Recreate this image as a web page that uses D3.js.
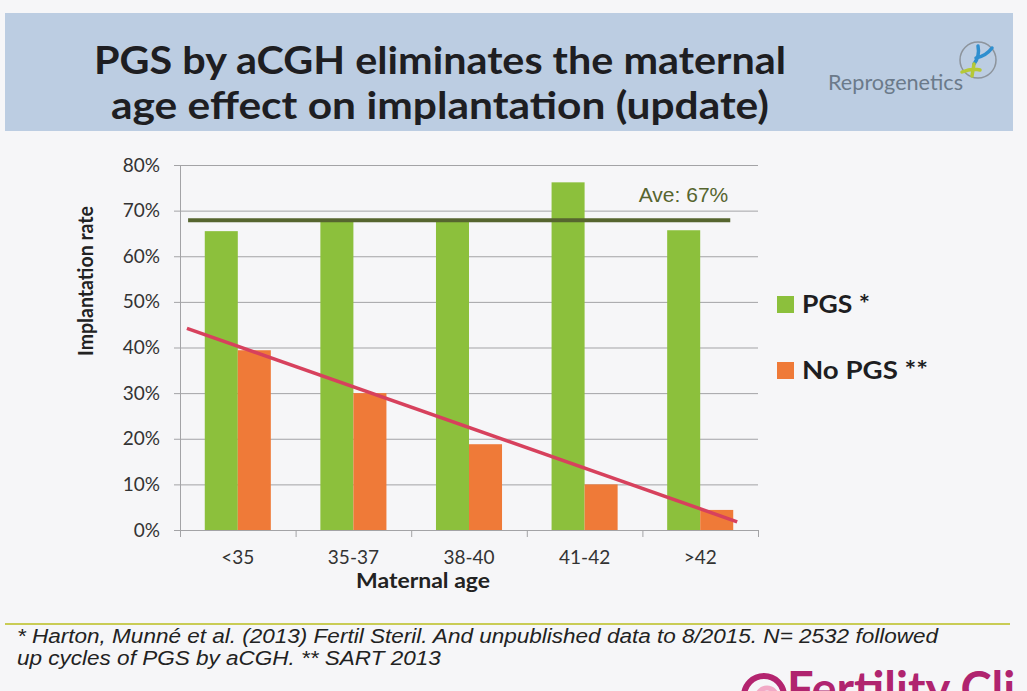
<!DOCTYPE html>
<html>
<head>
<meta charset="utf-8">
<script src="https://cdn.jsdelivr.net/npm/d3@7"></script>
<style>
  html, body { margin: 0; padding: 0; background: #f6f6f8; }
  #chart { width: 1027px; height: 691px; overflow: hidden; }
</style>
</head>
<body>
<div id="chart"></div>
<script>
// chart values
const categories = ['<35', '35-37', '38-40', '41-42', '>42'];
const seriesNames = ['PGS *', 'No PGS **'];
const pgsValues = [65.5, 67.6, 67.9, 76.2, 65.7];
const noPgsValues = [39.4, 30.0, 18.8, 10.0, 4.4];
const yTicks = [0, 10, 20, 30, 40, 50, 60, 70, 80];
const aveValue = 67.9;
const aveLabel = 'Ave: 67%';
const aveSpan = [-0.43, 4.26];      // category positions of the average line ends
const trendPos = [-0.44, 4.32];     // category positions of the trend line ends
const trendValues = [44.2, 1.8];
const titleLines = ['PGS by aCGH eliminates the maternal', 'age effect on implantation (update)'];
const footnoteLines = [
    '* Harton, Munné et al. (2013) Fertil Steril. And unpublished data to 8/2015. N= 2532 followed',
    'up cycles of PGS by aCGH. ** SART 2013'
];

const colors = { pgs: '#8cc03c', noPgs: '#ef7a38', ave: '#56652f', trend: '#d7415d', grid: '#a3a3a6' };

const svg = d3.select('#chart').append('svg')
    .attr('width', 1027)
    .attr('height', 691);

// title band
svg.append('rect')
    .attr('x', 5).attr('y', 13)
    .attr('width', 1008).attr('height', 118)
    .style('fill', '#bccde2');

svg.selectAll('.title')
    .data(titleLines)
    .enter().append('text')
    .attr('class', 'title')
    .attr('x', 440)
    .attr('y', (d, i) => 74 + i * 45)
    .attr('text-anchor', 'middle')
    .attr('textLength', (d, i) => i === 0 ? 692 : 658)
    .attr('lengthAdjust', 'spacingAndGlyphs')
    .style('font-family', 'Lato, sans-serif')
    .style('font-weight', 700)
    .style('font-size', '38px')
    .style('fill', '#1e1e22')
    .text(d => d);

// Reprogenetics logo
svg.append('text')
    .attr('x', 828).attr('y', 90)
    .attr('textLength', 135)
    .attr('lengthAdjust', 'spacingAndGlyphs')
    .style('font-family', 'Lato, sans-serif')
    .style('font-size', '21px')
    .style('fill', '#6b7a8a')
    .text('Reprogenetics');
const logo = svg.append('g').attr('transform', 'translate(978,60)');
logo.append('circle').attr('r', 18)
    .style('fill', 'none').style('stroke', '#8d949c').style('stroke-width', 1.5);
logo.append('path').attr('d', 'M-4,4 Q2,-4 0,-14 M-2,-2 Q8,-4 14,-12')
    .style('fill', 'none').style('stroke', '#2f8fcf').style('stroke-width', 3.5).style('stroke-linecap', 'round');
logo.append('path').attr('d', 'M-16,12 Q-6,8 2,10 M-4,4 L-6,16')
    .style('fill', 'none').style('stroke', '#b6c936').style('stroke-width', 3.5).style('stroke-linecap', 'round');

// chart area
const margin = { top: 165, left: 180 };
const width = 578;
const height = 365;

const g = svg.append('g')
    .attr('transform', `translate(${margin.left},${margin.top})`);

const x = d3.scaleBand()
    .domain(categories)
    .range([0, width])
    .padding(0);

const xSeries = d3.scaleBand()
    .domain(seriesNames)
    .range([0, x.bandwidth()])
    .paddingInner(0)
    .paddingOuter(0.75);

const xPos = d3.scaleLinear()
    .domain([-0.5, categories.length - 0.5])
    .range([0, width]);

const y = d3.scaleLinear()
    .domain([0, 80])
    .range([height, 0]);

// gridlines
g.append('g')
    .attr('class', 'grid')
    .call(d3.axisLeft(y).tickValues(yTicks.slice(1)).tickSize(-width).tickFormat(''))
    .call(a => a.select('.domain').remove())
    .selectAll('line')
    .style('stroke', colors.grid)
    .style('stroke-width', 1);

// Y axis
const yAxis = g.append('g')
    .call(d3.axisLeft(y).tickValues(yTicks).tickSize(6).tickPadding(14).tickFormat(d => d + '%'));
yAxis.select('.domain').style('stroke', colors.grid);
yAxis.selectAll('line').style('stroke', colors.grid);
yAxis.selectAll('text')
    .style('font-family', 'Lato, sans-serif')
    .style('font-size', '19px')
    .style('fill', '#333');

// X axis: tick marks between the groups, labels under the groups
const xTicks = g.append('g')
    .attr('transform', `translate(0,${height})`)
    .call(d3.axisBottom(xPos).tickValues(d3.range(categories.length + 1).map(i => i - 0.5)).tickSize(7).tickSizeOuter(0).tickFormat(''));
xTicks.selectAll('line, .domain').style('stroke', colors.grid);

const xAxis = g.append('g')
    .attr('transform', `translate(0,${height})`)
    .call(d3.axisBottom(x).tickSize(0).tickPadding(21));
xAxis.select('.domain').remove();
xAxis.selectAll('text')
    .style('font-family', 'Lato, sans-serif')
    .style('font-size', '19px')
    .style('fill', '#333');

// axis titles
svg.append('text')
    .attr('transform', 'translate(93,281) rotate(-90)')
    .attr('text-anchor', 'middle')
    .attr('textLength', 150)
    .attr('lengthAdjust', 'spacingAndGlyphs')
    .style('font-family', 'Lato, sans-serif')
    .style('font-weight', 700)
    .style('font-size', '21px')
    .style('fill', '#222')
    .text('Implantation rate');

svg.append('text')
    .attr('x', 423).attr('y', 588)
    .attr('text-anchor', 'middle')
    .attr('textLength', 134)
    .attr('lengthAdjust', 'spacingAndGlyphs')
    .style('font-family', 'Lato, sans-serif')
    .style('font-weight', 700)
    .style('font-size', '21px')
    .style('fill', '#222')
    .text('Maternal age');

// bars
const rows = categories.map((c, i) => ({ category: c, values: [pgsValues[i], noPgsValues[i]] }));
const barColor = d3.scaleOrdinal().domain(seriesNames).range([colors.pgs, colors.noPgs]);

g.selectAll('.group')
    .data(rows)
    .enter().append('g')
    .attr('class', 'group')
    .attr('transform', d => `translate(${x(d.category)},0)`)
    .selectAll('rect')
    .data(d => d.values.map((v, j) => ({ key: seriesNames[j], value: v })))
    .enter().append('rect')
    .attr('x', d => xSeries(d.key))
    .attr('y', d => y(d.value))
    .attr('width', xSeries.bandwidth())
    .attr('height', d => height - y(d.value))
    .style('fill', d => barColor(d.key));

// average line
g.append('line')
    .attr('x1', xPos(aveSpan[0]))
    .attr('x2', xPos(aveSpan[1]))
    .attr('y1', y(aveValue))
    .attr('y2', y(aveValue))
    .style('stroke', colors.ave)
    .style('stroke-width', 4);

g.append('text')
    .attr('x', xPos(aveSpan[1]) - 2)
    .attr('y', y(aveValue) - 18)
    .attr('text-anchor', 'end')
    .style('font-family', '"Liberation Sans", Arial, sans-serif')
    .style('font-size', '21px')
    .style('fill', colors.ave)
    .text(aveLabel);

// trend line for No PGS
const trendLine = d3.line()
    .x(d => xPos(d[0]))
    .y(d => y(d[1]));
g.append('path')
    .datum(trendPos.map((p, i) => [p, trendValues[i]]))
    .attr('d', trendLine)
    .style('fill', 'none')
    .style('stroke', colors.trend)
    .style('stroke-width', 3.5);

// legend
const legend = svg.selectAll('.legend')
    .data(seriesNames)
    .enter().append('g')
    .attr('class', 'legend')
    .attr('transform', (d, i) => `translate(777,${296 + i * 66})`);
legend.append('rect')
    .attr('width', 17).attr('height', 17)
    .style('fill', d => barColor(d));
legend.append('text')
    .attr('x', 25).attr('y', 17)
    .attr('textLength', (d, i) => i === 0 ? 68 : 126)
    .attr('lengthAdjust', 'spacingAndGlyphs')
    .style('font-family', 'Lato, sans-serif')
    .style('font-weight', 700)
    .style('font-size', '25px')
    .style('fill', '#1e1e22')
    .text(d => d);

// footnote
svg.append('line')
    .attr('x1', 5).attr('x2', 1010)
    .attr('y1', 624).attr('y2', 624)
    .style('stroke', '#c9cc55')
    .style('stroke-width', 2);

const notes = svg.selectAll('.note')
    .data(footnoteLines)
    .enter().append('text')
    .attr('class', 'note')
    .attr('x', 17)
    .attr('y', (d, i) => 643 + i * 22)
    .style('font-family', '"Liberation Sans", Arial, sans-serif')
    .style('font-style', 'italic')
    .style('font-size', '20px')
    .style('fill', '#222')
    .text(d => d);
// squeeze the footnote like the narrow face on the slide
const natural = notes.nodes()[0].getComputedTextLength();
const squeeze = 921 / natural;
notes.each(function () {
    d3.select(this)
        .attr('textLength', this.getComputedTextLength() * squeeze)
        .attr('lengthAdjust', 'spacingAndGlyphs');
});

// Fertility Clinic logo, cut off at the corner
const fc = svg.append('g');
fc.append('circle')
    .attr('cx', 764).attr('cy', 696).attr('r', 20)
    .style('fill', 'none').style('stroke', '#b3246f').style('stroke-width', 6);
fc.append('circle')
    .attr('cx', 767).attr('cy', 698).attr('r', 10)
    .style('fill', 'none').style('stroke', '#f2a9c6').style('stroke-width', 5);
fc.append('text')
    .attr('x', 787).attr('y', 706)
    .style('font-family', 'Lato, sans-serif')
    .style('font-weight', 700)
    .style('font-size', '47px')
    .style('fill', '#b0246f')
    .text('Fertility Cli');
</script>
</body>
</html>
